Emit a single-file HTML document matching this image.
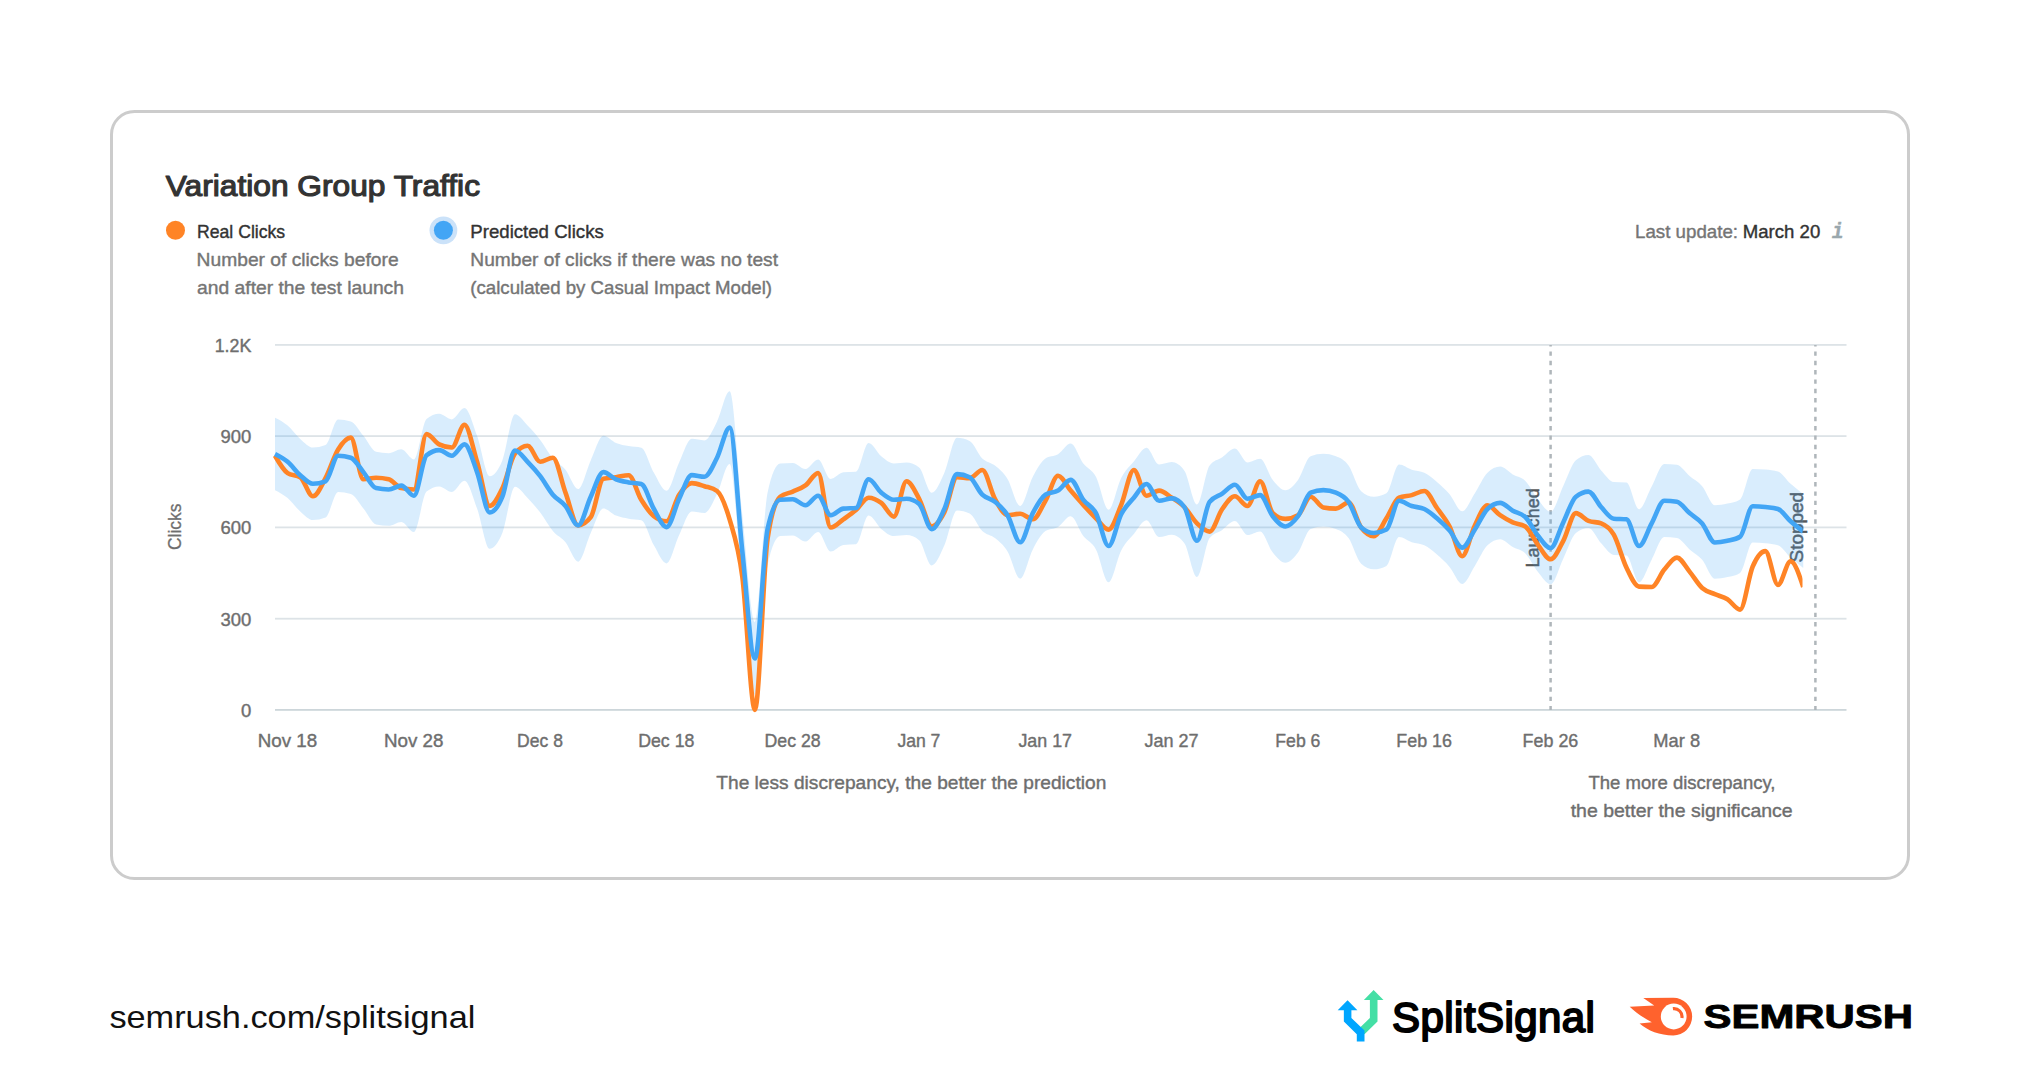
<!DOCTYPE html>
<html lang="en"><head><meta charset="utf-8"><title>Variation Group Traffic</title>
<style>
html,body{margin:0;padding:0;background:#fff;}
body{width:2020px;height:1072px;overflow:hidden;font-family:"Liberation Sans",sans-serif;}
svg{display:block;}
text{font-family:"Liberation Sans",sans-serif;}
</style></head><body>
<svg width="2020" height="1072" viewBox="0 0 2020 1072">
<rect x="0" y="0" width="2020" height="1072" fill="#ffffff"/>
<rect x="111.5" y="111.5" width="1797" height="767" rx="23" ry="23" fill="#ffffff" stroke="#cccccc" stroke-width="3"/>

<text x="165.8" y="195.9" font-size="30" fill="#333333" text-anchor="start" font-weight="normal" textLength="314.2" lengthAdjust="spacingAndGlyphs"  stroke="#333333" stroke-width="1.2" stroke-linejoin="round">Variation Group Traffic</text>
<circle cx="175.5" cy="230.3" r="9.5" fill="#FF8426"/>
<circle cx="443.4" cy="230.3" r="13.9" fill="#CBE2F9"/><circle cx="443.4" cy="230.3" r="9.5" fill="#42A5F5"/>
<text x="197.0" y="238.3" font-size="19" fill="#333333" text-anchor="start" font-weight="normal" textLength="88.2" lengthAdjust="spacingAndGlyphs"  stroke="#333333" stroke-width="0.4" stroke-linejoin="round">Real Clicks</text>
<text x="196.6" y="266.2" font-size="19" fill="#757575" text-anchor="start" font-weight="normal" textLength="202.0" lengthAdjust="spacingAndGlyphs"  stroke="#757575" stroke-width="0.4" stroke-linejoin="round">Number of clicks before</text>
<text x="197.0" y="294.3" font-size="19" fill="#757575" text-anchor="start" font-weight="normal" textLength="207.0" lengthAdjust="spacingAndGlyphs"  stroke="#757575" stroke-width="0.4" stroke-linejoin="round">and after the test launch</text>
<text x="470.3" y="238.3" font-size="19" fill="#333333" text-anchor="start" font-weight="normal" textLength="133.5" lengthAdjust="spacingAndGlyphs"  stroke="#333333" stroke-width="0.4" stroke-linejoin="round">Predicted Clicks</text>
<text x="470.3" y="266.2" font-size="19" fill="#757575" text-anchor="start" font-weight="normal" textLength="307.7" lengthAdjust="spacingAndGlyphs"  stroke="#757575" stroke-width="0.4" stroke-linejoin="round">Number of clicks if there was no test</text>
<text x="470.3" y="294.3" font-size="19" fill="#757575" text-anchor="start" font-weight="normal" textLength="301.8" lengthAdjust="spacingAndGlyphs"  stroke="#757575" stroke-width="0.4" stroke-linejoin="round">(calculated by Casual Impact Model)</text>
<text x="1635.0" y="238.3" font-size="19" fill="#757575" text-anchor="start" font-weight="normal" textLength="103.0" lengthAdjust="spacingAndGlyphs"  stroke="#757575" stroke-width="0.4" stroke-linejoin="round">Last update:</text>
<text x="1742.8" y="238.3" font-size="19" fill="#333333" text-anchor="start" font-weight="normal" textLength="77.5" lengthAdjust="spacingAndGlyphs"  stroke="#333333" stroke-width="0.4" stroke-linejoin="round">March 20</text>
<text x="1832.0" y="237.9" font-size="22.5" textLength="11.4" lengthAdjust="spacingAndGlyphs" fill="#9AA7AD" stroke="#9AA7AD" stroke-width="0.55" stroke-linejoin="round" font-style="italic" font-weight="bold" style="font-family:'Liberation Mono',monospace">i</text>
<rect x="275" y="344.00" width="1571.5" height="1.8" fill="#DDE3E7"/>
<rect x="275" y="435.20" width="1571.5" height="1.8" fill="#DDE3E7"/>
<rect x="275" y="526.50" width="1571.5" height="1.8" fill="#DDE3E7"/>
<rect x="275" y="617.80" width="1571.5" height="1.8" fill="#DDE3E7"/>
<rect x="275" y="709.00" width="1571.5" height="1.8" fill="#CDD6DA"/>
<text x="251.3" y="351.7" font-size="18.5" fill="#6e6e6e" text-anchor="end" font-weight="normal" textLength="36.6" lengthAdjust="spacingAndGlyphs"  stroke="#6e6e6e" stroke-width="0.4" stroke-linejoin="round">1.2K</text>
<text x="251.3" y="442.9" font-size="18.5" fill="#6e6e6e" text-anchor="end" font-weight="normal"  stroke="#6e6e6e" stroke-width="0.4" stroke-linejoin="round">900</text>
<text x="251.3" y="534.2" font-size="18.5" fill="#6e6e6e" text-anchor="end" font-weight="normal"  stroke="#6e6e6e" stroke-width="0.4" stroke-linejoin="round">600</text>
<text x="251.3" y="625.5" font-size="18.5" fill="#6e6e6e" text-anchor="end" font-weight="normal"  stroke="#6e6e6e" stroke-width="0.4" stroke-linejoin="round">300</text>
<text x="251.3" y="716.7" font-size="18.5" fill="#6e6e6e" text-anchor="end" font-weight="normal"  stroke="#6e6e6e" stroke-width="0.4" stroke-linejoin="round">0</text>
<text x="257.7" y="746.8" font-size="18.5" fill="#6e6e6e" text-anchor="start" font-weight="normal" textLength="59.5" lengthAdjust="spacingAndGlyphs"  stroke="#6e6e6e" stroke-width="0.4" stroke-linejoin="round">Nov 18</text>
<text x="384.0" y="746.8" font-size="18.5" fill="#6e6e6e" text-anchor="start" font-weight="normal" textLength="59.5" lengthAdjust="spacingAndGlyphs"  stroke="#6e6e6e" stroke-width="0.4" stroke-linejoin="round">Nov 28</text>
<text x="517.1" y="746.8" font-size="18.5" fill="#6e6e6e" text-anchor="start" font-weight="normal" textLength="45.8" lengthAdjust="spacingAndGlyphs"  stroke="#6e6e6e" stroke-width="0.4" stroke-linejoin="round">Dec 8</text>
<text x="638.2" y="746.8" font-size="18.5" fill="#6e6e6e" text-anchor="start" font-weight="normal" textLength="56.2" lengthAdjust="spacingAndGlyphs"  stroke="#6e6e6e" stroke-width="0.4" stroke-linejoin="round">Dec 18</text>
<text x="764.5" y="746.8" font-size="18.5" fill="#6e6e6e" text-anchor="start" font-weight="normal" textLength="56.2" lengthAdjust="spacingAndGlyphs"  stroke="#6e6e6e" stroke-width="0.4" stroke-linejoin="round">Dec 28</text>
<text x="897.4" y="746.8" font-size="18.5" fill="#6e6e6e" text-anchor="start" font-weight="normal" textLength="43.0" lengthAdjust="spacingAndGlyphs"  stroke="#6e6e6e" stroke-width="0.4" stroke-linejoin="round">Jan 7</text>
<text x="1018.4" y="746.8" font-size="18.5" fill="#6e6e6e" text-anchor="start" font-weight="normal" textLength="53.6" lengthAdjust="spacingAndGlyphs"  stroke="#6e6e6e" stroke-width="0.4" stroke-linejoin="round">Jan 17</text>
<text x="1144.5" y="746.8" font-size="18.5" fill="#6e6e6e" text-anchor="start" font-weight="normal" textLength="54.1" lengthAdjust="spacingAndGlyphs"  stroke="#6e6e6e" stroke-width="0.4" stroke-linejoin="round">Jan 27</text>
<text x="1275.3" y="746.8" font-size="18.5" fill="#6e6e6e" text-anchor="start" font-weight="normal" textLength="45.1" lengthAdjust="spacingAndGlyphs"  stroke="#6e6e6e" stroke-width="0.4" stroke-linejoin="round">Feb 6</text>
<text x="1396.3" y="746.8" font-size="18.5" fill="#6e6e6e" text-anchor="start" font-weight="normal" textLength="55.7" lengthAdjust="spacingAndGlyphs"  stroke="#6e6e6e" stroke-width="0.4" stroke-linejoin="round">Feb 16</text>
<text x="1522.6" y="746.8" font-size="18.5" fill="#6e6e6e" text-anchor="start" font-weight="normal" textLength="55.7" lengthAdjust="spacingAndGlyphs"  stroke="#6e6e6e" stroke-width="0.4" stroke-linejoin="round">Feb 26</text>
<text x="1653.3" y="746.8" font-size="18.5" fill="#6e6e6e" text-anchor="start" font-weight="normal" textLength="46.8" lengthAdjust="spacingAndGlyphs"  stroke="#6e6e6e" stroke-width="0.4" stroke-linejoin="round">Mar 8</text>
<text transform="translate(181.3,526.8) rotate(-90)" font-size="18.5" fill="#6e6e6e" stroke="#6e6e6e" stroke-width="0.3" text-anchor="middle" textLength="46.5" lengthAdjust="spacingAndGlyphs">Clicks</text>
<line x1="1550.6" y1="345" x2="1550.6" y2="710" stroke="#AFB6BA" stroke-width="2.5" stroke-dasharray="4.4 4.93" stroke-dashoffset="2.9"/>
<line x1="1815.4" y1="345" x2="1815.4" y2="710" stroke="#AFB6BA" stroke-width="2.5" stroke-dasharray="4.4 4.93" stroke-dashoffset="2.9"/>
<text transform="translate(1538.9,527.9) rotate(-90)" font-size="18.5" fill="#575757" stroke="#575757" stroke-width="0.5" text-anchor="middle" textLength="79.3" lengthAdjust="spacingAndGlyphs">Launched</text>
<text transform="translate(1803.3,527.2) rotate(-90)" font-size="18.5" fill="#575757" stroke="#575757" stroke-width="0.5" text-anchor="middle" textLength="70.5" lengthAdjust="spacingAndGlyphs">Stopped</text>
<clipPath id="cp"><rect x="270" y="330" width="1532.5" height="400"/></clipPath>
<path d="M275.00 417.70C279.21 419.83 283.42 421.97 287.63 425.50C291.84 429.03 296.05 435.23 300.26 438.90C304.47 442.57 308.68 447.50 312.89 447.50C317.10 447.50 321.31 446.67 325.52 445.00C329.73 443.33 333.94 419.40 338.15 419.40C342.36 419.40 346.57 420.07 350.78 421.40C354.99 422.73 359.20 430.73 363.41 435.80C367.62 440.87 371.83 450.87 376.04 451.80C380.25 452.73 384.46 453.20 388.67 453.20C392.88 453.20 397.09 449.30 401.30 449.30C405.51 449.30 409.72 459.40 413.93 459.40C418.14 459.40 422.35 422.47 426.56 419.00C430.77 415.53 434.98 413.80 439.19 413.80C443.40 413.80 447.61 419.40 451.82 419.40C456.03 419.40 460.24 408.10 464.45 408.10C468.66 408.10 472.87 424.45 477.08 435.80C481.29 447.15 485.50 476.20 489.71 476.20C493.92 476.20 498.13 470.73 502.34 460.40C506.55 450.07 510.76 414.20 514.97 414.20C519.18 414.20 523.39 421.22 527.60 425.50C531.81 429.78 536.02 434.42 540.23 439.90C544.44 445.38 548.65 453.43 552.86 458.40C557.07 463.37 561.28 464.58 565.49 469.70C569.70 474.82 573.91 489.10 578.12 489.10C582.33 489.10 586.54 469.28 590.75 460.40C594.96 451.52 599.17 435.80 603.38 435.80C607.59 435.80 611.80 441.28 616.01 443.00C620.22 444.72 624.43 445.32 628.64 446.10C632.85 446.88 637.06 446.63 641.27 447.70C645.48 448.77 649.69 465.52 653.90 472.70C658.11 479.88 662.32 490.80 666.53 490.80C670.74 490.80 674.95 471.17 679.16 462.50C683.37 453.83 687.58 438.80 691.79 438.80C696.00 438.80 700.21 440.40 704.42 440.40C708.63 440.40 712.84 429.58 717.05 421.40C721.26 413.22 725.47 391.30 729.68 391.30C733.89 391.30 738.10 476.52 742.31 515.00C746.52 553.48 750.73 622.20 754.94 622.20C759.15 622.20 763.36 512.33 767.57 492.80C771.78 473.27 775.99 463.90 780.20 463.50C784.41 463.10 788.62 462.90 792.83 462.90C797.04 462.90 801.25 469.00 805.46 469.00C809.67 469.00 813.88 459.40 818.09 459.40C822.30 459.40 826.51 478.90 830.72 478.90C834.93 478.90 839.14 472.70 843.35 472.30C847.56 471.90 851.77 472.10 855.98 471.70C860.19 471.30 864.40 443.00 868.61 443.00C872.82 443.00 877.03 452.88 881.24 456.30C885.45 459.72 889.66 463.50 893.87 463.50C898.08 463.50 902.29 462.50 906.50 462.50C910.71 462.50 914.92 464.20 919.13 467.60C923.34 471.00 927.55 492.80 931.76 492.80C935.97 492.80 940.18 481.87 944.39 472.70C948.60 463.53 952.81 437.80 957.02 437.80C961.23 437.80 965.44 438.83 969.65 440.90C973.86 442.97 978.07 454.30 982.28 458.40C986.49 462.50 990.70 462.08 994.91 465.50C999.12 468.92 1003.33 472.15 1007.54 478.90C1011.75 485.65 1015.96 506.00 1020.17 506.00C1024.38 506.00 1028.59 484.73 1032.80 476.80C1037.01 468.87 1041.22 461.13 1045.43 458.40C1049.64 455.67 1053.85 456.77 1058.06 454.30C1062.27 451.83 1066.48 443.60 1070.69 443.60C1074.90 443.60 1079.11 457.97 1083.32 463.50C1087.53 469.03 1091.74 469.10 1095.95 476.80C1100.16 484.50 1104.37 509.70 1108.58 509.70C1112.79 509.70 1117.00 485.95 1121.21 477.90C1125.42 469.85 1129.63 466.43 1133.84 461.40C1138.05 456.37 1142.26 447.70 1146.47 447.70C1150.68 447.70 1154.89 464.50 1159.10 464.50C1163.31 464.50 1167.52 462.10 1171.73 462.10C1175.94 462.10 1180.15 464.97 1184.36 470.70C1188.57 476.43 1192.78 504.50 1196.99 504.50C1201.20 504.50 1205.41 470.97 1209.62 465.50C1213.83 460.03 1218.04 460.13 1222.25 457.30C1226.46 454.47 1230.67 448.50 1234.88 448.50C1239.09 448.50 1243.30 462.50 1247.51 462.50C1251.72 462.50 1255.93 458.80 1260.14 458.80C1264.35 458.80 1268.56 474.67 1272.77 479.90C1276.98 485.13 1281.19 490.20 1285.40 490.20C1289.61 490.20 1293.82 485.55 1298.03 479.90C1302.24 474.25 1306.45 457.97 1310.66 456.30C1314.87 454.63 1319.08 453.80 1323.29 453.80C1327.50 453.80 1331.71 454.63 1335.92 456.30C1340.13 457.97 1344.34 459.68 1348.55 465.50C1352.76 471.32 1356.97 487.53 1361.18 491.20C1365.39 494.87 1369.60 496.70 1373.81 496.70C1378.02 496.70 1382.23 495.57 1386.44 493.30C1390.65 491.03 1394.86 464.50 1399.07 464.50C1403.28 464.50 1407.49 468.33 1411.70 469.70C1415.91 471.07 1420.12 470.70 1424.33 472.70C1428.54 474.70 1432.75 478.40 1436.96 482.00C1441.17 485.60 1445.38 489.42 1449.59 494.30C1453.80 499.18 1458.01 511.30 1462.22 511.30C1466.43 511.30 1470.64 499.73 1474.85 493.30C1479.06 486.87 1483.27 476.77 1487.48 472.70C1491.69 468.63 1495.90 466.60 1500.11 466.60C1504.32 466.60 1508.53 472.02 1512.74 474.40C1516.95 476.78 1521.16 476.73 1525.37 480.90C1529.58 485.07 1533.79 494.27 1538.00 499.40C1542.21 504.53 1546.42 511.70 1550.63 511.70C1554.84 511.70 1559.05 494.61 1563.26 486.03C1567.47 477.46 1571.68 463.71 1575.89 460.27C1580.10 456.83 1584.31 455.11 1588.52 455.11C1592.73 455.11 1596.94 465.94 1601.15 470.44C1605.36 474.93 1609.57 481.72 1613.78 482.08C1617.99 482.43 1622.20 482.25 1626.41 482.61C1630.62 482.97 1634.83 509.25 1639.04 509.25C1643.25 509.25 1647.46 494.13 1651.67 486.58C1655.88 479.02 1660.09 463.92 1664.30 463.92C1668.51 463.92 1672.72 464.23 1676.93 464.85C1681.14 465.47 1685.35 472.51 1689.56 476.09C1693.77 479.66 1697.98 481.44 1702.19 486.32C1706.40 491.20 1710.61 505.35 1714.82 505.35C1719.03 505.35 1723.24 504.58 1727.45 503.59C1731.66 502.60 1735.87 502.20 1740.08 499.43C1744.29 496.65 1748.50 468.96 1752.71 468.96C1756.92 468.96 1761.13 469.17 1765.34 469.59C1769.55 470.02 1773.76 470.24 1777.97 471.53C1782.18 472.82 1786.39 480.02 1790.60 483.76C1794.81 487.51 1799.02 490.75 1803.23 494.00L1803.23 567.90C1799.02 564.63 1794.81 561.37 1790.60 557.60C1786.39 553.83 1782.18 546.63 1777.97 545.30C1773.76 543.97 1769.55 543.75 1765.34 543.30C1761.13 542.85 1756.92 542.60 1752.71 542.60C1748.50 542.60 1744.29 570.27 1740.08 573.00C1735.87 575.73 1731.66 576.13 1727.45 577.10C1723.24 578.07 1719.03 578.80 1714.82 578.80C1710.61 578.80 1706.40 564.60 1702.19 559.70C1697.98 554.80 1693.77 553.00 1689.56 549.40C1685.35 545.80 1681.14 538.77 1676.93 538.10C1672.72 537.43 1668.51 537.10 1664.30 537.10C1660.09 537.10 1655.88 552.17 1651.67 559.70C1647.46 567.23 1643.25 582.30 1639.04 582.30C1634.83 582.30 1630.62 556.00 1626.41 555.60C1622.20 555.20 1617.99 555.40 1613.78 555.00C1609.57 554.60 1605.36 547.82 1601.15 543.30C1596.94 538.78 1592.73 527.90 1588.52 527.90C1584.31 527.90 1580.10 529.60 1575.89 533.00C1571.68 536.40 1567.47 550.15 1563.26 558.70C1559.05 567.25 1554.84 584.30 1550.63 584.30C1546.42 584.30 1542.21 577.13 1538.00 572.00C1533.79 566.87 1529.58 557.67 1525.37 553.50C1521.16 549.33 1516.95 549.38 1512.74 547.00C1508.53 544.62 1504.32 539.20 1500.11 539.20C1495.90 539.20 1491.69 541.23 1487.48 545.30C1483.27 549.37 1479.06 559.47 1474.85 565.90C1470.64 572.33 1466.43 583.90 1462.22 583.90C1458.01 583.90 1453.80 571.78 1449.59 566.90C1445.38 562.02 1441.17 558.20 1436.96 554.60C1432.75 551.00 1428.54 547.30 1424.33 545.30C1420.12 543.30 1415.91 543.67 1411.70 542.30C1407.49 540.93 1403.28 537.10 1399.07 537.10C1394.86 537.10 1390.65 563.63 1386.44 565.90C1382.23 568.17 1378.02 569.30 1373.81 569.30C1369.60 569.30 1365.39 567.47 1361.18 563.80C1356.97 560.13 1352.76 543.92 1348.55 538.10C1344.34 532.28 1340.13 530.57 1335.92 528.90C1331.71 527.23 1327.50 526.40 1323.29 526.40C1319.08 526.40 1314.87 527.23 1310.66 528.90C1306.45 530.57 1302.24 546.85 1298.03 552.50C1293.82 558.15 1289.61 562.80 1285.40 562.80C1281.19 562.80 1276.98 557.73 1272.77 552.50C1268.56 547.27 1264.35 531.40 1260.14 531.40C1255.93 531.40 1251.72 535.10 1247.51 535.10C1243.30 535.10 1239.09 521.10 1234.88 521.10C1230.67 521.10 1226.46 527.07 1222.25 529.90C1218.04 532.73 1213.83 532.63 1209.62 538.10C1205.41 543.57 1201.20 577.10 1196.99 577.10C1192.78 577.10 1188.57 549.03 1184.36 543.30C1180.15 537.57 1175.94 534.70 1171.73 534.70C1167.52 534.70 1163.31 537.10 1159.10 537.10C1154.89 537.10 1150.68 520.30 1146.47 520.30C1142.26 520.30 1138.05 528.97 1133.84 534.00C1129.63 539.03 1125.42 542.45 1121.21 550.50C1117.00 558.55 1112.79 582.30 1108.58 582.30C1104.37 582.30 1100.16 557.10 1095.95 549.40C1091.74 541.70 1087.53 541.63 1083.32 536.10C1079.11 530.57 1074.90 516.20 1070.69 516.20C1066.48 516.20 1062.27 524.43 1058.06 526.90C1053.85 529.37 1049.64 528.27 1045.43 531.00C1041.22 533.73 1037.01 541.47 1032.80 549.40C1028.59 557.33 1024.38 578.60 1020.17 578.60C1015.96 578.60 1011.75 558.25 1007.54 551.50C1003.33 544.75 999.12 541.52 994.91 538.10C990.70 534.68 986.49 535.10 982.28 531.00C978.07 526.90 973.86 515.57 969.65 513.50C965.44 511.43 961.23 510.40 957.02 510.40C952.81 510.40 948.60 536.13 944.39 545.30C940.18 554.47 935.97 565.40 931.76 565.40C927.55 565.40 923.34 543.60 919.13 540.20C914.92 536.80 910.71 535.10 906.50 535.10C902.29 535.10 898.08 536.10 893.87 536.10C889.66 536.10 885.45 532.32 881.24 528.90C877.03 525.48 872.82 515.60 868.61 515.60C864.40 515.60 860.19 543.90 855.98 544.30C851.77 544.70 847.56 544.50 843.35 544.90C839.14 545.30 834.93 551.50 830.72 551.50C826.51 551.50 822.30 532.00 818.09 532.00C813.88 532.00 809.67 541.60 805.46 541.60C801.25 541.60 797.04 535.50 792.83 535.50C788.62 535.50 784.41 535.70 780.20 536.10C775.99 536.50 771.78 545.87 767.57 565.40C763.36 584.93 759.15 694.80 754.94 694.80C750.73 694.80 746.52 626.08 742.31 587.60C738.10 549.12 733.89 463.90 729.68 463.90C725.47 463.90 721.26 485.82 717.05 494.00C712.84 502.18 708.63 513.00 704.42 513.00C700.21 513.00 696.00 511.40 691.79 511.40C687.58 511.40 683.37 526.43 679.16 535.10C674.95 543.77 670.74 563.40 666.53 563.40C662.32 563.40 658.11 552.48 653.90 545.30C649.69 538.12 645.48 521.37 641.27 520.30C637.06 519.23 632.85 519.48 628.64 518.70C624.43 517.92 620.22 517.32 616.01 515.60C611.80 513.88 607.59 508.40 603.38 508.40C599.17 508.40 594.96 524.12 590.75 533.00C586.54 541.88 582.33 561.70 578.12 561.70C573.91 561.70 569.70 547.42 565.49 542.30C561.28 537.18 557.07 535.97 552.86 531.00C548.65 526.03 544.44 517.98 540.23 512.50C536.02 507.02 531.81 502.38 527.60 498.10C523.39 493.82 519.18 486.80 514.97 486.80C510.76 486.80 506.55 522.67 502.34 533.00C498.13 543.33 493.92 548.80 489.71 548.80C485.50 548.80 481.29 519.75 477.08 508.40C472.87 497.05 468.66 480.70 464.45 480.70C460.24 480.70 456.03 492.00 451.82 492.00C447.61 492.00 443.40 486.40 439.19 486.40C434.98 486.40 430.77 488.13 426.56 491.60C422.35 495.07 418.14 532.00 413.93 532.00C409.72 532.00 405.51 521.90 401.30 521.90C397.09 521.90 392.88 525.80 388.67 525.80C384.46 525.80 380.25 525.33 376.04 524.40C371.83 523.47 367.62 513.47 363.41 508.40C359.20 503.33 354.99 495.33 350.78 494.00C346.57 492.67 342.36 492.00 338.15 492.00C333.94 492.00 329.73 515.93 325.52 517.60C321.31 519.27 317.10 520.10 312.89 520.10C308.68 520.10 304.47 515.17 300.26 511.50C296.05 507.83 291.84 501.63 287.63 498.10C283.42 494.57 279.21 492.43 275.00 490.30Z" fill="#42A5F5" fill-opacity="0.2" stroke="none"/>
<path d="M275.00 455.70C279.21 463.03 283.42 470.37 287.63 473.10C291.84 475.83 296.05 474.47 300.26 477.20C304.47 479.93 308.68 496.30 312.89 496.30C317.10 496.30 321.31 486.00 325.52 478.20C329.73 470.40 333.94 456.27 338.15 449.50C342.36 442.73 346.57 437.60 350.78 437.60C354.99 437.60 359.20 479.30 363.41 479.30C367.62 479.30 371.83 477.80 376.04 477.80C380.25 477.80 384.46 478.30 388.67 479.30C392.88 480.30 397.09 487.17 401.30 488.10C405.51 489.03 409.72 489.50 413.93 489.50C418.14 489.50 422.35 434.10 426.56 434.10C430.77 434.10 434.98 442.33 439.19 444.40C443.40 446.47 447.61 447.50 451.82 447.50C456.03 447.50 460.24 424.90 464.45 424.90C468.66 424.90 472.87 448.28 477.08 461.80C481.29 475.32 485.50 506.00 489.71 506.00C493.92 506.00 498.13 497.23 502.34 488.50C506.55 479.77 510.76 458.80 514.97 453.60C519.18 448.40 523.39 445.80 527.60 445.80C531.81 445.80 536.02 461.80 540.23 461.80C544.44 461.80 548.65 457.70 552.86 457.70C557.07 457.70 561.28 481.32 565.49 492.60C569.70 503.88 573.91 525.40 578.12 525.40C582.33 525.40 586.54 522.67 590.75 517.20C594.96 511.73 599.17 479.70 603.38 478.70C607.59 477.70 611.80 477.78 616.01 477.20C620.22 476.62 624.43 475.20 628.64 475.20C632.85 475.20 637.06 492.97 641.27 499.80C645.48 506.63 649.69 512.80 653.90 516.20C658.11 519.60 662.32 521.30 666.53 521.30C670.74 521.30 674.95 501.07 679.16 494.70C683.37 488.33 687.58 483.10 691.79 483.10C696.00 483.10 700.21 484.88 704.42 486.20C708.63 487.52 712.84 487.80 717.05 491.00C721.26 494.20 725.47 505.33 729.68 519.60C733.89 533.87 738.10 544.88 742.31 576.60C746.52 608.32 750.73 709.90 754.94 709.90C759.15 709.90 763.36 566.53 767.57 538.60C771.78 510.67 775.99 500.10 780.20 496.70C784.41 493.30 788.62 493.48 792.83 491.60C797.04 489.72 801.25 488.48 805.46 485.40C809.67 482.32 813.88 473.10 818.09 473.10C822.30 473.10 826.51 527.50 830.72 527.50C834.93 527.50 839.14 522.20 843.35 519.30C847.56 516.40 851.77 513.70 855.98 510.10C860.19 506.50 864.40 497.70 868.61 497.70C872.82 497.70 877.03 499.75 881.24 502.90C885.45 506.05 889.66 516.60 893.87 516.60C898.08 516.60 902.29 481.30 906.50 481.30C910.71 481.30 914.92 491.27 919.13 498.80C923.34 506.33 927.55 526.50 931.76 526.50C935.97 526.50 940.18 520.32 944.39 512.10C948.60 503.88 952.81 477.20 957.02 477.20C961.23 477.20 965.44 478.20 969.65 478.20C973.86 478.20 978.07 470.00 982.28 470.00C986.49 470.00 990.70 491.27 994.91 498.80C999.12 506.33 1003.33 515.20 1007.54 515.20C1011.75 515.20 1015.96 513.80 1020.17 513.80C1024.38 513.80 1028.59 519.30 1032.80 519.30C1037.01 519.30 1041.22 508.05 1045.43 500.80C1049.64 493.55 1053.85 475.80 1058.06 475.80C1062.27 475.80 1066.48 485.75 1070.69 490.60C1074.90 495.45 1079.11 500.28 1083.32 504.90C1087.53 509.52 1091.74 514.18 1095.95 518.30C1100.16 522.42 1104.37 529.60 1108.58 529.60C1112.79 529.60 1117.00 514.83 1121.21 504.90C1125.42 494.97 1129.63 470.00 1133.84 470.00C1138.05 470.00 1142.26 495.70 1146.47 495.70C1150.68 495.70 1154.89 490.60 1159.10 490.60C1163.31 490.60 1167.52 494.97 1171.73 497.70C1175.94 500.43 1180.15 502.72 1184.36 507.00C1188.57 511.28 1192.78 519.30 1196.99 523.40C1201.20 527.50 1205.41 531.60 1209.62 531.60C1213.83 531.60 1218.04 514.88 1222.25 509.00C1226.46 503.12 1230.67 496.30 1234.88 496.30C1239.09 496.30 1243.30 506.00 1247.51 506.00C1251.72 506.00 1255.93 481.30 1260.14 481.30C1264.35 481.30 1268.56 509.23 1272.77 513.10C1276.98 516.97 1281.19 518.90 1285.40 518.90C1289.61 518.90 1293.82 517.67 1298.03 515.20C1302.24 512.73 1306.45 496.70 1310.66 496.70C1314.87 496.70 1319.08 506.60 1323.29 507.40C1327.50 508.20 1331.71 508.60 1335.92 508.60C1340.13 508.60 1344.34 502.50 1348.55 502.50C1352.76 502.50 1356.97 521.90 1361.18 527.50C1365.39 533.10 1369.60 536.10 1373.81 536.10C1378.02 536.10 1382.23 524.70 1386.44 518.30C1390.65 511.90 1394.86 499.43 1399.07 497.70C1403.28 495.97 1407.49 496.22 1411.70 495.10C1415.91 493.98 1420.12 491.00 1424.33 491.00C1428.54 491.00 1432.75 502.08 1436.96 508.00C1441.17 513.92 1445.38 518.47 1449.59 526.50C1453.80 534.53 1458.01 556.20 1462.22 556.20C1466.43 556.20 1470.64 533.88 1474.85 525.40C1479.06 516.92 1483.27 505.30 1487.48 505.30C1491.69 505.30 1495.90 512.35 1500.11 515.20C1504.32 518.05 1508.53 520.52 1512.74 522.40C1516.95 524.28 1521.16 523.77 1525.37 526.50C1529.58 529.23 1533.79 539.43 1538.00 544.90C1542.21 550.37 1546.42 559.30 1550.63 559.30C1554.84 559.30 1559.05 548.50 1563.26 540.80C1567.47 533.10 1571.68 513.10 1575.89 513.10C1580.10 513.10 1584.31 519.23 1588.52 520.90C1592.73 522.57 1596.94 521.73 1601.15 523.40C1605.36 525.07 1609.57 527.35 1613.78 534.70C1617.99 542.05 1622.20 558.85 1626.41 567.50C1630.62 576.15 1634.83 586.33 1639.04 586.60C1643.25 586.87 1647.46 587.00 1651.67 587.00C1655.88 587.00 1660.09 574.50 1664.30 569.60C1668.51 564.70 1672.72 557.60 1676.93 557.60C1681.14 557.60 1685.35 566.53 1689.56 571.60C1693.77 576.67 1697.98 584.23 1702.19 588.00C1706.40 591.77 1710.61 592.32 1714.82 594.20C1719.03 596.08 1723.24 596.73 1727.45 599.30C1731.66 601.87 1735.87 609.60 1740.08 609.60C1744.29 609.60 1748.50 576.25 1752.71 566.50C1756.92 556.75 1761.13 551.10 1765.34 551.10C1769.55 551.10 1773.76 584.90 1777.97 584.90C1782.18 584.90 1786.39 561.30 1790.60 561.30C1794.81 561.30 1799.02 574.15 1803.23 587.00" fill="none" stroke="#FF8426" stroke-width="4.6" stroke-linejoin="round" stroke-linecap="butt" clip-path="url(#cp)"/>
<path d="M275.00 454.00C279.21 456.13 283.42 458.27 287.63 461.80C291.84 465.33 296.05 471.53 300.26 475.20C304.47 478.87 308.68 483.80 312.89 483.80C317.10 483.80 321.31 482.97 325.52 481.30C329.73 479.63 333.94 455.70 338.15 455.70C342.36 455.70 346.57 456.37 350.78 457.70C354.99 459.03 359.20 467.03 363.41 472.10C367.62 477.17 371.83 487.17 376.04 488.10C380.25 489.03 384.46 489.50 388.67 489.50C392.88 489.50 397.09 485.60 401.30 485.60C405.51 485.60 409.72 495.70 413.93 495.70C418.14 495.70 422.35 458.77 426.56 455.30C430.77 451.83 434.98 450.10 439.19 450.10C443.40 450.10 447.61 455.70 451.82 455.70C456.03 455.70 460.24 444.40 464.45 444.40C468.66 444.40 472.87 460.75 477.08 472.10C481.29 483.45 485.50 512.50 489.71 512.50C493.92 512.50 498.13 507.03 502.34 496.70C506.55 486.37 510.76 450.50 514.97 450.50C519.18 450.50 523.39 457.52 527.60 461.80C531.81 466.08 536.02 470.72 540.23 476.20C544.44 481.68 548.65 489.73 552.86 494.70C557.07 499.67 561.28 500.88 565.49 506.00C569.70 511.12 573.91 525.40 578.12 525.40C582.33 525.40 586.54 505.58 590.75 496.70C594.96 487.82 599.17 472.10 603.38 472.10C607.59 472.10 611.80 477.58 616.01 479.30C620.22 481.02 624.43 481.62 628.64 482.40C632.85 483.18 637.06 482.93 641.27 484.00C645.48 485.07 649.69 501.82 653.90 509.00C658.11 516.18 662.32 527.10 666.53 527.10C670.74 527.10 674.95 507.47 679.16 498.80C683.37 490.13 687.58 475.10 691.79 475.10C696.00 475.10 700.21 476.70 704.42 476.70C708.63 476.70 712.84 465.88 717.05 457.70C721.26 449.52 725.47 427.60 729.68 427.60C733.89 427.60 738.10 512.82 742.31 551.30C746.52 589.78 750.73 658.50 754.94 658.50C759.15 658.50 763.36 548.63 767.57 529.10C771.78 509.57 775.99 500.20 780.20 499.80C784.41 499.40 788.62 499.20 792.83 499.20C797.04 499.20 801.25 505.30 805.46 505.30C809.67 505.30 813.88 495.70 818.09 495.70C822.30 495.70 826.51 515.20 830.72 515.20C834.93 515.20 839.14 509.00 843.35 508.60C847.56 508.20 851.77 508.40 855.98 508.00C860.19 507.60 864.40 479.30 868.61 479.30C872.82 479.30 877.03 489.18 881.24 492.60C885.45 496.02 889.66 499.80 893.87 499.80C898.08 499.80 902.29 498.80 906.50 498.80C910.71 498.80 914.92 500.50 919.13 503.90C923.34 507.30 927.55 529.10 931.76 529.10C935.97 529.10 940.18 518.17 944.39 509.00C948.60 499.83 952.81 474.10 957.02 474.10C961.23 474.10 965.44 475.13 969.65 477.20C973.86 479.27 978.07 490.60 982.28 494.70C986.49 498.80 990.70 498.38 994.91 501.80C999.12 505.22 1003.33 508.45 1007.54 515.20C1011.75 521.95 1015.96 542.30 1020.17 542.30C1024.38 542.30 1028.59 521.03 1032.80 513.10C1037.01 505.17 1041.22 497.43 1045.43 494.70C1049.64 491.97 1053.85 493.07 1058.06 490.60C1062.27 488.13 1066.48 479.90 1070.69 479.90C1074.90 479.90 1079.11 494.27 1083.32 499.80C1087.53 505.33 1091.74 505.40 1095.95 513.10C1100.16 520.80 1104.37 546.00 1108.58 546.00C1112.79 546.00 1117.00 522.25 1121.21 514.20C1125.42 506.15 1129.63 502.73 1133.84 497.70C1138.05 492.67 1142.26 484.00 1146.47 484.00C1150.68 484.00 1154.89 500.80 1159.10 500.80C1163.31 500.80 1167.52 498.40 1171.73 498.40C1175.94 498.40 1180.15 501.27 1184.36 507.00C1188.57 512.73 1192.78 540.80 1196.99 540.80C1201.20 540.80 1205.41 507.27 1209.62 501.80C1213.83 496.33 1218.04 496.43 1222.25 493.60C1226.46 490.77 1230.67 484.80 1234.88 484.80C1239.09 484.80 1243.30 498.80 1247.51 498.80C1251.72 498.80 1255.93 495.10 1260.14 495.10C1264.35 495.10 1268.56 510.97 1272.77 516.20C1276.98 521.43 1281.19 526.50 1285.40 526.50C1289.61 526.50 1293.82 521.85 1298.03 516.20C1302.24 510.55 1306.45 494.27 1310.66 492.60C1314.87 490.93 1319.08 490.10 1323.29 490.10C1327.50 490.10 1331.71 490.93 1335.92 492.60C1340.13 494.27 1344.34 495.98 1348.55 501.80C1352.76 507.62 1356.97 523.83 1361.18 527.50C1365.39 531.17 1369.60 533.00 1373.81 533.00C1378.02 533.00 1382.23 531.87 1386.44 529.60C1390.65 527.33 1394.86 500.80 1399.07 500.80C1403.28 500.80 1407.49 504.63 1411.70 506.00C1415.91 507.37 1420.12 507.00 1424.33 509.00C1428.54 511.00 1432.75 514.70 1436.96 518.30C1441.17 521.90 1445.38 525.72 1449.59 530.60C1453.80 535.48 1458.01 547.60 1462.22 547.60C1466.43 547.60 1470.64 536.03 1474.85 529.60C1479.06 523.17 1483.27 513.07 1487.48 509.00C1491.69 504.93 1495.90 502.90 1500.11 502.90C1504.32 502.90 1508.53 508.32 1512.74 510.70C1516.95 513.08 1521.16 513.03 1525.37 517.20C1529.58 521.37 1533.79 530.57 1538.00 535.70C1542.21 540.83 1546.42 548.00 1550.63 548.00C1554.84 548.00 1559.05 530.95 1563.26 522.40C1567.47 513.85 1571.68 500.10 1575.89 496.70C1580.10 493.30 1584.31 491.60 1588.52 491.60C1592.73 491.60 1596.94 502.48 1601.15 507.00C1605.36 511.52 1609.57 518.30 1613.78 518.70C1617.99 519.10 1622.20 518.90 1626.41 519.30C1630.62 519.70 1634.83 546.00 1639.04 546.00C1643.25 546.00 1647.46 530.93 1651.67 523.40C1655.88 515.87 1660.09 500.80 1664.30 500.80C1668.51 500.80 1672.72 501.13 1676.93 501.80C1681.14 502.47 1685.35 509.50 1689.56 513.10C1693.77 516.70 1697.98 518.50 1702.19 523.40C1706.40 528.30 1710.61 542.50 1714.82 542.50C1719.03 542.50 1723.24 541.77 1727.45 540.80C1731.66 539.83 1735.87 539.43 1740.08 536.70C1744.29 533.97 1748.50 506.30 1752.71 506.30C1756.92 506.30 1761.13 506.55 1765.34 507.00C1769.55 507.45 1773.76 507.67 1777.97 509.00C1782.18 510.33 1786.39 517.53 1790.60 521.30C1794.81 525.07 1799.02 528.33 1803.23 531.60" fill="none" stroke="#42A5F5" stroke-width="4.6" stroke-linejoin="round" stroke-linecap="butt" clip-path="url(#cp)"/>
<text x="911.3" y="789.2" font-size="19" fill="#6e6e6e" text-anchor="middle" font-weight="normal" textLength="390.0" lengthAdjust="spacingAndGlyphs"  stroke="#6e6e6e" stroke-width="0.4" stroke-linejoin="round">The less discrepancy, the better the prediction</text>
<text x="1682.0" y="789.2" font-size="19" fill="#6e6e6e" text-anchor="middle" font-weight="normal" textLength="187.0" lengthAdjust="spacingAndGlyphs"  stroke="#6e6e6e" stroke-width="0.4" stroke-linejoin="round">The more discrepancy,</text>
<text x="1681.7" y="817.3" font-size="19" fill="#6e6e6e" text-anchor="middle" font-weight="normal" textLength="222.0" lengthAdjust="spacingAndGlyphs"  stroke="#6e6e6e" stroke-width="0.4" stroke-linejoin="round">the better the significance</text>
<text x="109.4" y="1027.8" font-size="32" fill="#111111" text-anchor="start" font-weight="normal" textLength="366.0" lengthAdjust="spacingAndGlyphs" >semrush.com/splitsignal</text>
<polygon fill="#44DFA5" points="1373.6,989.9 1383.5,999.9 1377.5,999.9 1377.5,1021.4 1364.5,1034.3 1358,1029.5 1369.9,1018 1369.9,999.9 1363.9,999.9"/>
<polygon fill="#00A6FF" points="1347.55,1000.2 1357.4,1010.3 1351.4,1010.3 1351.4,1018 1364.5,1030.6 1364.5,1041.6 1356.8,1041.6 1356.8,1034.3 1343.85,1021.4 1343.85,1010.3 1337.7,1010.3"/>
<text x="1392.1" y="1032.0" font-size="42" fill="#000000" stroke="#000000" stroke-width="1.9" stroke-linejoin="round" textLength="202.8" lengthAdjust="spacing">SplitSignal</text>
<path fill="#FF622D" d="M1643.3 998.1 L1673.3 997.7 A18.85 18.85 0 0 1 1673.3 1035.4 C1660 1035.4 1647.5 1030.5 1639.6 1023.4 L1651.8 1022.3 C1644 1018 1636 1013 1629.7 1006.7 L1654.2 1005.4 Z"/>
<circle cx="1673.7" cy="1016.5" r="12.9" fill="#ffffff"/>
<path d="M1672.9 1008.6 A8.1 8.1 0 0 1 1681.9 1017.9" fill="none" stroke="#FF622D" stroke-width="3.2"/>
<text x="1703.5" y="1027.8" font-size="34" fill="#000000" text-anchor="start" font-weight="bold" textLength="209.5" lengthAdjust="spacingAndGlyphs"  stroke="#000000" stroke-width="0.9" stroke-linejoin="round">SEMRUSH</text>
</svg>
</body></html>
